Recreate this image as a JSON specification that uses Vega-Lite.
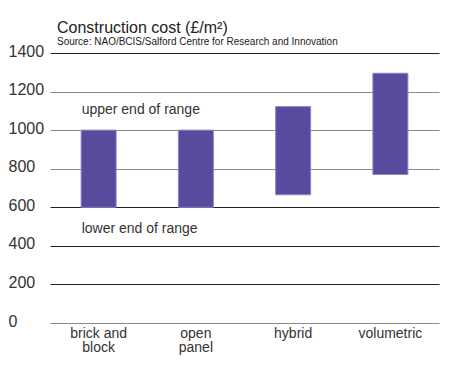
{
  "$schema": "https://vega.github.io/schema/vega-lite/v6.json",
  "autosize": {"type": "none"},
  "width": 378,
  "height": 270,
  "padding": {"left": 57, "top": 53, "right": 18, "bottom": 50},
  "background": "white",
  "config": {
    "view": {"stroke": null},
    "font": "Liberation Sans",
    "axisY": {
      "title": null,
      "values": [0, 200, 400, 600, 800, 1000, 1200, 1400],
      "format": "d",
      "domain": false,
      "ticks": false,
      "tickSize": 0,
      "labelAlign": "left",
      "labelBaseline": "middle",
      "labelOffset": -2,
      "labelPadding": 49,
      "labelFontSize": 16,
      "labelColor": "#333333",
      "labelOverlap": false,
      "labelFlush": false,
      "grid": true,
      "gridWidth": 1.2
    }
  },
  "title": {
    "text": "Construction cost (£/m²)",
    "subtitle": "Source: NAO/BCIS/Salford Centre for Research and Innovation",
    "anchor": "start",
    "frame": "group",
    "font": "Liberation Sans",
    "fontSize": 16,
    "fontWeight": "normal",
    "color": "#222222",
    "subtitleFont": "Liberation Sans",
    "subtitleFontSize": 10,
    "subtitleColor": "#222222",
    "subtitlePadding": 1,
    "offset": -4
  },
  "layer": [
    {
      "data": {
        "values": [
          {"method": "brick and block", "low": 600, "high": 1000},
          {"method": "open panel", "low": 600, "high": 1000},
          {"method": "hybrid", "low": 665, "high": 1122},
          {"method": "volumetric", "low": 770, "high": 1295}
        ]
      },
      "mark": {"type": "bar", "size": 35, "color": "#574b9d", "stroke": "#8d85c6", "strokeWidth": 1},
      "encoding": {
        "x": {
          "field": "method",
          "type": "nominal",
          "sort": null,
          "scale": {"range": [-7, 382], "paddingInner": 0, "paddingOuter": 0},
          "axis": {
            "title": null,
            "domain": false,
            "ticks": false,
            "labelAngle": 0,
            "labelFontSize": 14,
            "labelColor": "#333333",
            "labelPadding": 3,
            "labelLineHeight": 14.5,
            "labelBaseline": "top",
            "labelOverlap": false,
            "labelExpr": "datum.label == 'brick and block' ? ['brick and', 'block'] : datum.label == 'open panel' ? ['open', 'panel'] : datum.label"
          }
        },
        "y": {
          "field": "low",
          "type": "quantitative",
          "scale": {"domain": [0, 1400], "nice": false},
          "axis": {
            "values": [0, 200, 400, 600, 800, 1000, 1200, 1400],
            "gridColor": {
              "condition": {"test": "datum.value == 0 || (datum.value >= 800 && datum.value <= 1200)", "value": "#8a8a8a"},
              "value": "#222222"
            }
          }
        },
        "y2": {"field": "high"}
      }
    },
    {
      "data": {
        "values": [
          {"method": "brick and block", "value": 1085, "label": "upper end of range"},
          {"method": "brick and block", "value": 465, "label": "lower end of range"}
        ]
      },
      "mark": {"type": "text", "align": "left", "baseline": "alphabetic", "dx": -17, "fontSize": 14, "color": "#333333", "font": "Liberation Sans"},
      "encoding": {
        "x": {"field": "method", "type": "nominal", "sort": null},
        "y": {"field": "value", "type": "quantitative", "axis": {
            "values": [0, 200, 400, 600, 800, 1000, 1200, 1400],
            "gridColor": {
              "condition": {"test": "datum.value == 0 || (datum.value >= 800 && datum.value <= 1200)", "value": "#8a8a8a"},
              "value": "#222222"
            }
          }},
        "text": {"field": "label"}
      }
    }
  ]
}
